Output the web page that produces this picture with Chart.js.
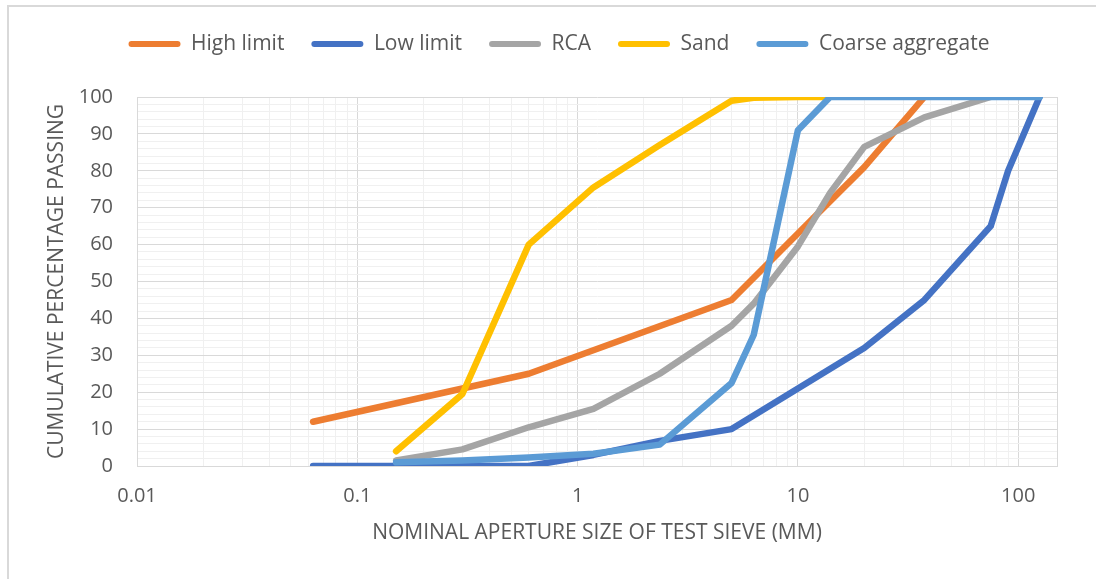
<!DOCTYPE html>
<html>
<head>
<meta charset="utf-8">
<script src="https://cdn.jsdelivr.net/npm/chart.js@4.4.1/dist/chart.umd.min.js"></script>
<style>
html, body { margin: 0; padding: 0; background: #ffffff; }
#wrap { position: relative; width: 1096px; height: 579px; }
</style>
</head>
<body>
<div id="wrap"><canvas id="c" width="1096" height="579"></canvas></div>
<script>
// ---- data ----
const seriesNames = ['High limit', 'Low limit', 'RCA', 'Sand', 'Coarse aggregate'];

const highX = [0.063, 0.3, 0.6, 5, 10, 20, 37.5];
const highY = [12, 21, 25, 45, 63, 81, 100];

const lowX = [0.063, 0.15, 0.3, 0.6, 1.18, 2.36, 5, 10, 20, 37.5, 75, 90, 125];
const lowY = [0, 0, 0, 0, 3, 6.8, 10, 21, 32, 45, 65, 80, 100];

const rcaX = [0.15, 0.3, 0.6, 1.18, 2.36, 5, 6.3, 10, 14, 20, 37.5, 75];
const rcaY = [1.5, 4.5, 10.5, 15.5, 25, 38, 44, 59.5, 74, 86.5, 94.5, 100];

const sandX = [0.15, 0.3, 0.6, 1.18, 2.36, 5, 6.3, 10, 14];
const sandY = [4, 19.5, 60, 75.5, 87, 99, 99.8, 100, 100];

const coarseX = [0.15, 0.3, 0.6, 1.18, 2.36, 5, 6.3, 10, 14, 20, 37.5, 75, 125];
const coarseY = [1, 1.5, 2.3, 3.3, 5.8, 22.5, 35.5, 91, 100, 100, 100, 100, 100];

const xTickLabels = ['0.01', '0.1', '1', '10', '100'];
const yTickLabels = ['0', '10', '20', '30', '40', '50', '60', '70', '80', '90', '100'];

const xTitle = 'NOMINAL APERTURE SIZE OF TEST SIEVE (MM)';
const yTitle = 'CUMULATIVE PERCENTAGE PASSING';

// ---- styles ----
const seriesColors = ['#ED7D31', '#4472C4', '#A5A5A5', '#FFC000', '#5B9BD5'];
const X_MIN = 0.01, X_MAX = 150;
const MAJOR = '#d9d9d9', MINOR = '#f0f0f0', TEXT = '#595959';
const FONT = "'Open Sans', sans-serif";
const LEGEND_GAP = 32.5;

Chart.defaults.font.family = FONT;
Chart.defaults.color = TEXT;

function pts(xs, ys) { return xs.map((x, i) => ({ x: x, y: ys[i] })); }
const allX = [highX, lowX, rcaX, sandX, coarseX];
const allY = [highY, lowY, rcaY, sandY, coarseY];

const datasets = seriesNames.map((name, i) => ({
  label: name,
  data: pts(allX[i], allY[i]),
  borderColor: seriesColors[i],
  backgroundColor: seriesColors[i],
  borderWidth: 6.5,
  pointRadius: 0,
  pointHoverRadius: 0,
  tension: 0,
  fill: false,
  borderCapStyle: 'round',
  borderJoinStyle: 'round',
  order: seriesNames.length - 1 - i
}));

function decadeIndex(v) {
  const l = Math.log10(v);
  const r = Math.round(l);
  return Math.abs(l - r) < 1e-9 ? r + 2 : -1;
}

const legendSpacer = {
  id: 'legendSpacer',
  patch(chart) {
    const lg = chart.legend;
    if (!lg || lg._spacerPatched) return;
    const fit = lg.fit;
    lg.fit = function () { fit.call(this); this.height += LEGEND_GAP; };
    lg._spacerPatched = true;
  },
  afterInit(chart) { this.patch(chart); },
  beforeLayout(chart) { this.patch(chart); }
};

const frame = {
  id: 'frame',
  beforeDraw(chart) {
    const ctx = chart.ctx;
    ctx.save();
    ctx.strokeStyle = '#d9d9d9';
    ctx.lineWidth = 2;
    ctx.beginPath();
    ctx.moveTo(8, 579);
    ctx.lineTo(8, 6);
    ctx.lineTo(1096, 6);
    ctx.stroke();
    ctx.restore();
  }
};

new Chart(document.getElementById('c'), {
  type: 'line',
  data: { datasets: datasets },
  plugins: [legendSpacer, frame],
  options: {
    responsive: false,
    animation: false,
    events: [],
    layout: { padding: { left: 22, top: 6.5, right: 0, bottom: 0 } },
    plugins: {
      tooltip: { enabled: false },
      legend: {
        position: 'top',
        align: 'center',
        labels: {
          boxWidth: 52,
          boxHeight: 6,
          padding: 27,
          useBorderRadius: true,
          borderRadius: 3,
          color: TEXT,
          font: { size: 21, family: FONT },
          sort: (a, b) => a.datasetIndex - b.datasetIndex,
          generateLabels: (chart) => {
            const items = Chart.defaults.plugins.legend.labels.generateLabels(chart);
            items.forEach(it => { it.fillStyle = it.strokeStyle; it.lineWidth = 0; });
            return items;
          }
        }
      }
    },
    scales: {
      x: {
        type: 'logarithmic',
        position: 'bottom',
        min: X_MIN,
        max: X_MAX,
        afterBuildTicks: (s) => {
          const t = [];
          for (let e = -2; e <= 2; e++) {
            for (let m = 1; m <= 9; m++) {
              const v = +(m * Math.pow(10, e)).toPrecision(6);
              if (v >= X_MIN && v <= X_MAX) t.push({ value: v, major: m === 1 });
            }
          }
          t.push({ value: X_MAX, major: false });
          s.ticks = t;
        },
        afterFit: (s) => { s.height = 113; },
        ticks: {
          autoSkip: false,
          maxRotation: 0,
          padding: 18,
          color: TEXT,
          font: { size: 20 },
          callback: (v) => { const k = decadeIndex(v); return k >= 0 ? xTickLabels[k] : ''; }
        },
        grid: {
          drawTicks: false,
          color: (ctx) => {
            if (!ctx.tick) return MAJOR;
            const v = ctx.tick.value;
            return (decadeIndex(v) >= 0 || v === X_MAX) ? MAJOR : MINOR;
          },
          lineWidth: 1
        },
        border: { color: MAJOR, width: 1 },
        title: {
          display: true,
          text: xTitle,
          color: TEXT,
          font: { size: 21 },
          padding: { top: 0, bottom: 33.4 }
        }
      },
      y: {
        type: 'linear',
        position: 'left',
        min: 0,
        max: 100,
        afterFit: (s) => { s.width = 115; },
        ticks: {
          stepSize: 2,
          autoSkip: false,
          padding: 24,
          color: TEXT,
          font: { size: 20 },
          callback: (v) => (v % 10 === 0 ? yTickLabels[v / 10] : '')
        },
        grid: {
          drawTicks: false,
          color: (ctx) => (ctx.tick && ctx.tick.value % 10 !== 0 ? MINOR : MAJOR),
          lineWidth: 1
        },
        border: { color: MAJOR, width: 1 },
        title: {
          display: true,
          text: yTitle,
          color: TEXT,
          font: { size: 21 },
          padding: { top: 22.4, bottom: 0 }
        }
      },
      yR: {
        type: 'linear',
        position: 'right',
        display: true,
        grid: { display: false, drawOnChartArea: false, drawTicks: false },
        border: { display: false },
        ticks: { display: false },
        afterFit: (s) => { s.width = 39; }
      }
    }
  }
});
</script>
</body>
</html>
